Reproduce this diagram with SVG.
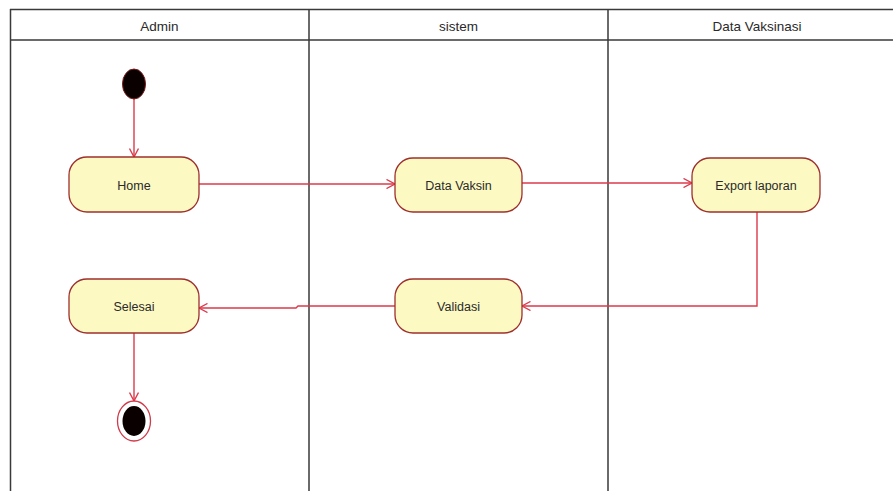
<svg xmlns="http://www.w3.org/2000/svg" width="893" height="491" viewBox="0 0 893 491">
  <style>
    .lane { fill: none; stroke: #3a3a3a; stroke-width: 1.5; }
    .hdr { font-family: "Liberation Sans", Arial, sans-serif; font-size: 13.5px; fill: #2a2a2a; text-anchor: middle; }
    .act { fill: #fcf9c3; stroke: #9e2f2c; stroke-width: 1.3; }
    .lbl { font-family: "Liberation Sans", Arial, sans-serif; font-size: 12.5px; fill: #2a2a2a; text-anchor: middle; }
    .flow { fill: none; stroke: #dc3a4c; stroke-width: 1.4; marker-end: url(#open); }
  </style>
  <defs>
    <marker id="open" viewBox="0 0 10 10" refX="9.5" refY="5" markerWidth="10" markerHeight="10" markerUnits="userSpaceOnUse" orient="auto">
      <path d="M1,0.5 L9.5,5 L1,9.5" fill="none" stroke="#dc3a4c" stroke-width="1.4"/>
    </marker>
  </defs>
  <rect width="893" height="491" fill="#ffffff"/>

  <!-- swimlane frame -->
  <g id="lanes">
    <path class="lane" d="M10,9.5 H893 M10,40 H893 M10.5,9 V491 M309,9 V491 M608,9 V491"/>
    <text class="hdr" x="159.5" y="30.5">Admin</text>
    <text class="hdr" x="458.5" y="30.5">sistem</text>
    <text class="hdr" x="757" y="30.5">Data Vaksinasi</text>
  </g>

  <!-- control flow -->
  <g id="connectors">
    <path class="flow" d="M134,99 V157"/>
    <path class="flow" d="M199,184 H395"/>
    <path class="flow" d="M522,183 H692"/>
    <path class="flow" d="M757,212 V306 H522"/>
    <path class="flow" d="M395,306 H298 L296,308 H199"/>
    <path class="flow" d="M134,333 V401"/>
  </g>

  <g id="start">
    <ellipse cx="134" cy="84" rx="11.5" ry="15" fill="#0a0000" stroke="#7a1a1a" stroke-width="1"/>
  </g>

  <g id="home">
    <rect class="act" x="69" y="157" width="130" height="55" rx="18"/>
    <text class="lbl" x="134" y="190">Home</text>
  </g>

  <g id="data-vaksin">
    <rect class="act" x="395" y="158" width="127" height="54" rx="18"/>
    <text class="lbl" x="458.5" y="190">Data Vaksin</text>
  </g>

  <g id="export-laporan">
    <rect class="act" x="692" y="158" width="128" height="54" rx="18"/>
    <text class="lbl" x="756" y="190">Export laporan</text>
  </g>

  <g id="validasi">
    <rect class="act" x="395" y="279" width="127" height="54" rx="18"/>
    <text class="lbl" x="458.5" y="311">Validasi</text>
  </g>

  <g id="selesai">
    <rect class="act" x="69" y="279" width="130" height="54" rx="18"/>
    <text class="lbl" x="134" y="311">Selesai</text>
  </g>

  <g id="end">
    <ellipse cx="134" cy="421" rx="16.5" ry="20" fill="#ffffff" stroke="#d03a4a" stroke-width="1.3"/>
    <ellipse cx="134" cy="421" rx="11.5" ry="15" fill="#0a0000"/>
  </g>
</svg>
